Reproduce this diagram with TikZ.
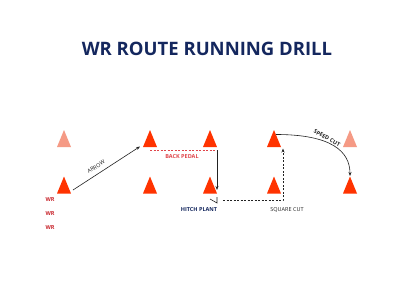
\documentclass[tikz,border=0pt]{standalone}
\usepackage{fontspec}
\setmainfont{Open Sans}
\usetikzlibrary{arrows.meta,calc,positioning}
\definecolor{Navy}{HTML}{14275E}
\definecolor{Cone}{HTML}{FF3300}
\definecolor{ConeLight}{HTML}{F59A85}
\definecolor{WRRed}{HTML}{C8252C}
\definecolor{Pedal}{HTML}{E0454A}
\definecolor{Ink}{HTML}{222222}
\newcommand{\cone}[4]{%
  \fill[#4] (#2-7,#3+8.5) -- (#2,#3-8.5) -- (#2+7,#3+8.5) -- cycle;
  \coordinate (#1) at (#2,#3);
}
\tikzset{
  route/.style={Ink,line width=0.6pt},
  routetip/.style={route,-{Stealth[length=4pt,width=3pt]}},
  lbl/.style={font=\fontsize{5.5}{6}\selectfont\bfseries,inner sep=0.5pt},
  wr/.style={lbl,text=WRRed,font=\fontsize{5.5}{6}\selectfont\bfseries}
}
\begin{document}
\begin{tikzpicture}[x=1pt,y=-1pt]
        \useasboundingbox (0,0) rectangle (400,300);
        \fill[white] (0,0) rectangle (400,300);
        \node[text=Navy,font=\fontsize{18.5}{20}\selectfont\bfseries] (title) at (207,49) {WR ROUTE RUNNING DRILL};
        % cones
        \cone{t1}{64}{138.5}{ConeLight}
        \cone{t2}{150}{138.5}{Cone}
        \cone{t3}{210}{138.5}{Cone}
        \cone{t4}{274}{138.5}{Cone}
        \cone{t5}{350}{138.5}{ConeLight}
        \cone{b1}{64}{185}{Cone}
        \cone{b2}{150}{185}{Cone}
        \cone{b3}{210}{185}{Cone}
        \cone{b4}{274}{185}{Cone}
        \cone{b5}{350}{185}{Cone}
        % receivers
        \node[wr] (wr1) at (50,200) {WR};
        \node[wr] (wr2) at (50,214) {WR};
        \node[wr] (wr3) at (50,228) {WR};
        % arrow
        \coordinate (arrowA) at ($(b1)+(9,5)$);
        \coordinate (arrowB) at ($(t2)+(-10,8)$);
        \draw[routetip] (arrowA) -- node[lbl,pos=0.4,above=4pt,sloped,text=Ink,font=\fontsize{5.5}{6}\selectfont] (arrowlbl) {ARROW} (arrowB);
        % back pedal, hitch plant
        \coordinate (pedalA) at ($(t2)+(0,11.5)$);
        \coordinate (pedalB) at ($(t3)+(7,11.5)$);
        \coordinate (hitch) at ($(b3)+(7,5)$);
        \draw[Pedal,line width=0.6pt,dashed,dash pattern=on 2pt off 1.5pt] (pedalA) -- (pedalB);
        \node[lbl,text=Pedal] (pedallbl) at (182,157) {BACK PEDAL};
        \draw[routetip] (pedalB) -- (hitch);
        \coordinate (plantA) at ($(b3)+(0,14)$);
        \coordinate (plantB) at ($(b3)+(7,18)$);
        \draw[route] (plantA) -- (plantB) -- ++(0,-6);
        \node[lbl,text=Navy] (hitchlbl) at (199,210) {HITCH PLANT};
        % square cut
        \coordinate (sqA) at ($(b3)+(13,15)$);
        \coordinate (sqB) at ($(b4)+(9,15)$);
        \coordinate (sqC) at ($(t4)+(9,10)$);
        \draw[routetip,dashed,dash pattern=on 2pt off 1.5pt] (sqA) -- (sqB) -- (sqC);
        \node[lbl,text=Ink,font=\fontsize{5.5}{6}\selectfont] (sqlbl) at (287,210) {SQUARE CUT};
        % speed cut
        \coordinate (spA) at ($(t4)+(2,-4)$);
        \coordinate (spB) at ($(b5)+(0,-9)$);
        \draw[routetip] (spA) .. controls ($(spA)+(55,0)$) and ($(spB)+(0,-25)$) .. (spB);
        \node[lbl,text=Ink,rotate=-28] (splbl) at (327,138) {SPEED CUT};
      \end{tikzpicture}
\end{document}
